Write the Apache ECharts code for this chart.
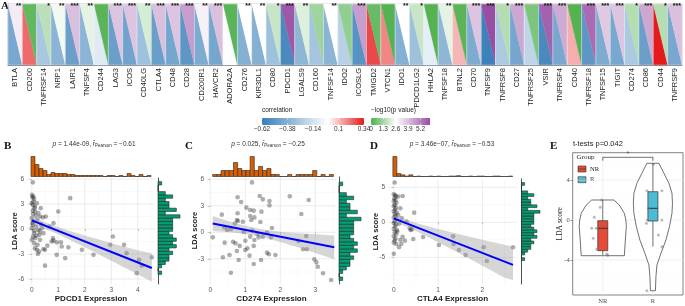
<!DOCTYPE html>
<html>
<head>
<meta charset="utf-8">
<title>Immune checkpoints vs LDA score</title>
<script src="https://cdn.jsdelivr.net/npm/echarts@6/dist/echarts.min.js"></script>
<style>
  html, body { margin: 0; padding: 0; background: #fff; }
  #main { width: 685px; height: 306px; }
</style>
</head>
<body>
<div id="main"></div>
<script>
// ---- A: correlation of each checkpoint gene with the LDA score ----
const genes = ['BTLA', 'CD200', 'TNFRSF14', 'NRP1', 'LAIR1', 'TNFSF4', 'CD244', 'LAG3', 'ICOS', 'CD40LG',
  'CTLA4', 'CD48', 'CD28', 'CD200R1', 'HAVCR2', 'ADORA2A', 'CD276', 'KIR3DL1', 'CD80', 'PDCD1',
  'LGALS9', 'CD160', 'TNFSF14', 'IDO2', 'ICOSLG', 'TMIGD2', 'VTCN1', 'IDO1', 'PDCD1LG2', 'HHLA2',
  'TNFSF18', 'BTNL2', 'CD70', 'TNFSF9', 'TNFRSF8', 'CD27', 'TNFRSF25', 'VSIR', 'TNFRSF4', 'CD40',
  'TNFRSF18', 'TNFSF15', 'TIGIT', 'CD274', 'CD86', 'CD44', 'TNFRSF9'];
const corrValues = [-0.42, 0.22, -0.27, -0.36, -0.46, -0.36, -0.1, -0.46, -0.44, -0.3,
  -0.46, -0.43, -0.5, -0.4, -0.43, -0.01, -0.38, -0.38, -0.3, -0.56,
  -0.35, -0.28, -0.36, -0.22, -0.52, 0.27, 0.18, -0.38, -0.3, -0.08,
  -0.35, 0.11, -0.4, -0.6, -0.26, -0.43, -0.2, -0.56, -0.42, 0.12,
  -0.5, -0.4, -0.42, -0.26, -0.46, 0.34, -0.42];
const logPValues = [3.0, 0.3, 1.6, 2.4, 3.9, 2.2, 0.2, 3.8, 3.8, 2.0,
  3.9, 3.8, 4.6, 2.9, 3.9, 0.2, 2.6, 2.6, 1.8, 6.0,
  2.1, 1.2, 2.6, 1.0, 4.6, 0.4, 0.1, 2.6, 1.8, 0.1,
  2.2, 0.2, 3.8, 6.2, 1.5, 4.4, 0.7, 5.8, 4.3, 0.1,
  5.6, 3.7, 3.8, 1.5, 4.4, 1.5, 3.9];
const starLabels = ['**', '', '*', '**', '***', '**', '', '***', '***', '**',
  '***', '***', '***', '**', '***', '', '**', '**', '*', '***',
  '**', '', '**', '', '***', '', '', '**', '*', '',
  '**', '', '***', '***', '*', '***', '', '***', '***', '',
  '***', '***', '***', '*', '***', '*', '***'];
const corrBreaks = [-0.62, -0.38, -0.14, 0.1, 0.34];
const pBreaks = [0, 1.3, 2.6, 3.9, 5.2];

// ---- B-D: expression vs LDA score ----
const pdcd1Points = [[0.04, 5.6], [0.01, 4.1], [0.06, 3.9], [0.02, 3.8], [0.09, 3.6], [0.06, 3.3], [0.0, 3.1],
  [0.19, 3.1], [0.04, 2.9], [0.12, 2.7], [0.34, 2.5], [0.1, 2.5], [0.04, 2.2], [0.13, 2.1], [0.25, 1.9],
  [0.05, 1.8], [1.0, 2.1], [1.45, 3.7], [0.31, 1.5], [0.42, 1.4], [0.53, 1.5], [0.0, 1.3], [0.15, 1.6],
  [0.21, 1.1], [0.06, 0.9], [0.82, 0.7], [0.02, 0.7], [0.35, 0.6], [0.04, 0.5], [0.16, 0.3], [0.67, 0.3],
  [0.0, 0.1], [0.38, 0.1], [0.25, -0.1], [0.1, -0.2], [0.3, -0.3], [0.09, -0.5], [0.44, -0.5], [0.29, -0.7],
  [0.18, -0.8], [0.05, -0.9], [0.13, -1.1], [0.8, -1.1], [0.0, -1.3], [0.31, -1.3], [0.82, -1.4],
  [0.75, -1.5], [0.94, -1.6], [1.1, -1.6], [0.09, -1.7], [0.22, -1.9], [0.59, -2.0], [1.13, -2.1],
  [1.38, -2.2], [0.12, -2.3], [0.44, -2.4], [0.19, -2.5], [0.5, -2.5], [1.89, -2.5], [0.28, -2.7],
  [0.23, -3.0], [0.94, -3.1], [2.33, -3.1], [1.26, -3.5], [0.5, -4.4], [2.96, -1.9], [3.06, -0.9],
  [3.48, -1.9], [3.58, -2.9], [4.05, -3.7], [4.15, -4.4], [3.96, -5.3], [4.53, -3.4]];
const pdcd1Fit = [[0, 1.04], [4.53, -4.68]];
const pdcd1BandX = [0, 0.5, 1, 1.5, 2, 2.5, 3, 3.5, 4, 4.53];
const pdcd1BandLow = [0.54, 0.01, -0.64, -1.4, -2.18, -3.0, -3.8, -4.63, -5.46, -6.3];
const pdcd1BandHigh = [1.54, 0.81, 0.2, -0.3, -0.78, -1.24, -1.7, -2.13, -2.56, -2.95];
const pdcd1HistStart = -0.03, pdcd1HistWidth = 0.151;
const pdcd1HistCounts = [20, 12, 8, 6, 2, 4, 3, 3, 3, 2, 2, 1, 1, 1, 1, 1, 1, 1, 0, 1, 1, 0, 1, 0, 3, 1, 0, 2, 0, 1];

const cd274Points = [[1.19, 5.65], [0.78, 3.96], [0.88, 3.43], [1.03, 2.79], [1.41, 4.11], [1.5, 3.73],
  [1.69, 3.54], [1.69, 3.05], [2.27, 4.07], [2.81, 3.66], [2.6, 2.07], [0.78, 2.15], [1.14, 2.52],
  [1.24, 2.45], [1.46, 2.34], [0.76, 1.39], [0.79, 1.28], [0.93, 1.2], [1.14, 1.85], [1.26, 1.69],
  [1.17, 1.39], [0.33, 2.0], [0.4, 0.56], [0.48, 0.26], [0.59, 0.34], [0.7, 1.0], [0.07, -0.57],
  [0.41, -1.17], [0.65, -1.06], [0.72, -1.24], [0.84, -1.54], [1.0, -0.95], [1.14, -0.49], [1.26, -0.87],
  [1.24, -1.54], [1.38, -0.57], [1.5, -0.49], [1.62, -0.04], [1.73, -0.57], [1.06, -1.81], [1.0, -2.0],
  [0.76, -2.11], [0.36, -2.83], [0.55, -2.57], [0.81, -3.13], [1.12, -2.64], [1.24, -3.58], [1.45, -3.13],
  [1.62, -2.3], [1.67, -2.49], [1.86, -2.57], [0.59, -4.57], [2.52, -0.98], [2.65, -1.92], [2.76, -1.92],
  [2.74, -0.42], [2.97, -3.06], [3.03, -3.4], [3.07, -3.89], [3.22, -4.64], [3.45, -5.4], [1.43, 1.17],
  [1.76, 0.49], [1.2, 0.2], [0.95, 0.05], [1.35, -0.2]];
const cd274Fit = [[0.07, 1.0], [3.54, -1.7]];
const cd274BandX = [0.07, 0.5, 1, 1.5, 2, 2.5, 3, 3.54];
const cd274BandLow = [0.15, 0.04, -0.2, -0.57, -1.09, -1.7, -2.33, -3.05];
const cd274BandHigh = [1.85, 1.28, 0.74, 0.33, 0.07, -0.1, -0.23, -0.35];
const cd274HistStart = 0.067, cd274HistWidth = 0.119;
const cd274HistCounts = [1, 1, 3, 3, 3, 7, 4, 3, 3, 10, 3, 5, 3, 4, 1, 1, 0, 0, 1, 0, 1, 1, 1, 1, 3, 0, 1, 0, 1];

const ctla4Points = [[0.02, 5.7], [0.0, 4.0], [0.03, 3.9], [0.05, 3.7], [0.01, 3.4], [0.04, 3.2], [0.0, 3.0],
  [0.06, 2.8], [0.02, 2.5], [0.0, 2.3], [0.05, 2.1], [0.03, 1.8], [0.0, 1.6], [0.07, 1.4], [0.02, 1.2],
  [0.04, 0.9], [0.0, 0.7], [0.06, 0.4], [0.02, 0.2], [0.0, -0.1], [0.05, -0.3], [0.03, -0.6], [0.0, -0.9],
  [0.07, -1.1], [0.02, -1.4], [0.05, -1.7], [0.0, -2.0], [0.04, -2.3], [0.02, -2.6], [0.0, -2.9],
  [0.06, -3.1], [0.0, -4.5], [0.2, 3.76], [0.1, 3.7], [0.15, 2.0], [0.1, 1.05], [0.46, 1.38], [0.18, 0.6],
  [0.29, 0.1], [0.12, -0.2], [0.41, -1.0], [0.36, -0.86], [0.38, -1.1], [0.08, -1.3], [0.44, -2.38],
  [0.2, -2.05], [0.15, -2.52], [0.25, -2.62], [0.17, -3.1], [0.12, -3.57], [0.66, -2.1], [1.02, -3.24],
  [1.34, -2.0], [1.35, -3.1], [1.47, -3.95], [1.62, -4.67], [2.03, -3.57], [2.1, -5.52], [2.69, -3.57]];
const ctla4Fit = [[0, 0.57], [2.69, -6.07]];
const ctla4BandX = [0, 0.5, 1, 1.5, 2, 2.5, 2.69];
const ctla4BandLow = [0.12, -1.25, -2.85, -4.5, -6.2, -7.9, -8.25];
const ctla4BandHigh = [1.02, -0.1, -0.95, -1.75, -2.5, -3.2, -3.5];
const ctla4HistStart = -0.02, ctla4HistWidth = 0.09;
const ctla4HistCounts = [48, 7, 4, 1, 4, 0, 1, 0, 0, 1, 0, 1, 0, 0, 1, 1, 2, 0, 0, 1, 0, 1, 1, 0, 0, 1, 1, 0, 0, 1];

// LDA score distribution (same for B, C, D), bins from bottom to top
const ldaHistStart = -5.45, ldaHistWidth = 0.3975;
const ldaHistCounts = [1, 0, 1, 2, 3, 3, 4, 3, 5, 4, 5, 4, 3, 4, 4, 4, 4, 6, 2, 5, 3, 3, 2, 4, 2, 0, 0, 1];

// ---- E: LDA score by response group ----
const groupNames = ['NR', 'R'];
const groupColors = ['#E64B35', '#4DBBD5'];
const nrViolinY = [2.0, 1.5, 1.0, 0.67, 0.0, -0.67, -1.3, -2.0, -2.8, -3.57];
const nrViolinW = [0.22, 0.33, 0.39, 0.43, 0.46, 0.47, 0.46, 0.45, 0.44, 0.43];
const rViolinY = [5.67, 4.67, 3.67, 2.67, 1.67, 0.67, -0.67, -2.0, -3.33, -4.5, -5.67, -7.07];
const rViolinW = [0.12, 0.22, 0.32, 0.38, 0.39, 0.38, 0.33, 0.26, 0.16, 0.08, 0.06, 0.05];
// min, q1, median, q3, max
const nrBox = [-3.5, -3.07, -0.83, -0.07, 2.0];
const rBox = [-2.67, -0.1, 1.17, 2.83, 5.67];
const nrPoints = [[0.98, 2.0], [0.95, 1.27], [0.83, 0.27], [0.78, -0.83], [0.87, -0.83], [0.97, -0.7],
  [0.81, -1.83], [0.88, -2.93], [1.08, -3.4], [1.1, -3.53]];
const rPoints = [[2.01, 5.57], [1.88, 2.93], [2.18, 2.93], [1.91, 1.17], [1.89, 0.0], [2.18, 0.0],
  [1.87, -0.33], [2.11, -1.5], [2.18, -2.67], [1.88, -7.07]];
const sigBracket = { from: 1, to: 2, y: 6.27, drop: 0.34, label: '*' };

const SANS = "'Liberation Sans', Arial, sans-serif";
const SERIF = "'Liberation Serif', 'Times New Roman', serif";
const BLUE = [55, 126, 184], RED = [228, 26, 28], WHITE = [255, 255, 255];
const GREEN = [77, 175, 74], PURPLE = [152, 78, 163];
const CORR_MIN = -0.62, CORR_MAX = 0.34, P_MID = 2.6, P_MAX = 6.2;

function mix(a, b, t) {
  t = Math.max(0, Math.min(1, t));
  return 'rgb(' + a.map((v, k) => Math.round(v + (b[k] - v) * t)).join(',') + ')';
}
function corrColor(v) {
  return v < 0 ? mix(WHITE, BLUE, v / CORR_MIN) : mix(WHITE, RED, v / CORR_MAX);
}
function pColor(v) {
  return v < P_MID ? mix(GREEN, WHITE, v / P_MID) : mix(WHITE, PURPLE, (v - P_MID) / (P_MAX - P_MID));
}

const chart = echarts.init(document.getElementById('main'));
const grid = [], xAxis = [], yAxis = [], series = [], graphic = [];

// panel A
grid.push({ left: 8, top: 4, width: 674, height: 61, show: true, borderColor: '#a0a0a0', borderWidth: 0.6 });
xAxis.push({
  type: 'category', gridIndex: 0, data: genes,
  axisLine: { lineStyle: { color: '#333', width: 0.6 } },
  axisTick: { alignWithLabel: true, length: 2, lineStyle: { color: '#333', width: 0.6 } },
  axisLabel: { interval: 0, rotate: 90, fontSize: 7.5, color: '#222', margin: 3, fontFamily: SANS },
  splitLine: { show: false }
});
yAxis.push({
  type: 'value', gridIndex: 0, min: 0, max: 1,
  axisLine: { show: true, lineStyle: { color: '#333', width: 0.8 } },
  axisTick: { show: false }, axisLabel: { show: false }, splitLine: { show: false }
});
series.push({
  type: 'custom', xAxisIndex: 0, yAxisIndex: 0, silent: true, z: 2,
  data: genes.map((g, i) => [i, corrValues[i], logPValues[i]]),
  encode: { x: 0, y: 1 },
  renderItem(params, api) {
    const i = api.value(0);
    const top = api.coord([i, 1]);
    const bottom = api.coord([i, 0]);
    const w = api.size([1, 0])[0];
    const x0 = top[0] - w / 2, x1 = top[0] + w / 2, y0 = top[1], y1 = bottom[1];
    const cc = corrColor(api.value(1)), pc = pColor(api.value(2));
    return {
      type: 'group',
      children: [
        { type: 'polygon', shape: { points: [[x0, y0], [x0, y1], [x1, y1]] }, style: { fill: cc, stroke: cc, lineWidth: 0.3 } },
        { type: 'polygon', shape: { points: [[x0, y0], [x1, y0], [x1, y1]] }, style: { fill: pc, stroke: pc, lineWidth: 0.3 } },
        { type: 'rect', shape: { x: x0, y: y0, width: w, height: y1 - y0 }, style: { fill: 'none', stroke: 'rgba(255,255,255,0.7)', lineWidth: 0.5 } },
        { type: 'text', style: { text: starLabels[params.dataIndex], x: x1 - 1, y: y0 - 1, textAlign: 'right', textVerticalAlign: 'top', fontSize: 7, fontWeight: 'bold', fontFamily: SANS, fill: '#111' } }
      ]
    };
  }
});

// colour bar legends
function colorBar(x, y, w, h, min, max, stops, breaks, title, fmt) {
  graphic.push({ type: 'text', x: x, y: y - 4, style: { text: title, fontSize: 6.5, fontFamily: SANS, fill: '#222', textVerticalAlign: 'bottom' } });
  graphic.push({ type: 'rect', shape: { x: x, y: y, width: w, height: h }, style: { fill: new echarts.graphic.LinearGradient(0, 0, 1, 0, stops) } });
  breaks.forEach(b => {
    const bx = x + (b - min) / (max - min) * w;
    graphic.push({ type: 'line', shape: { x1: bx, y1: y, x2: bx, y2: y + 1.5 }, style: { stroke: '#fff', lineWidth: 0.6 } });
    graphic.push({ type: 'line', shape: { x1: bx, y1: y + h - 1.5, x2: bx, y2: y + h }, style: { stroke: '#fff', lineWidth: 0.6 } });
    graphic.push({ type: 'text', x: bx, y: y + h + 1, style: { text: fmt(b), fontSize: 6.5, fontFamily: SANS, fill: '#333', textAlign: 'center', textVerticalAlign: 'top' } });
  });
}
const zeroAt = (0 - CORR_MIN) / (CORR_MAX - CORR_MIN);
colorBar(262, 118, 102, 7, CORR_MIN, CORR_MAX,
  [{ offset: 0, color: mix(WHITE, BLUE, 1) }, { offset: zeroAt / 2, color: mix(WHITE, BLUE, 0.5) },
   { offset: zeroAt, color: '#ffffff' }, { offset: (1 + zeroAt) / 2, color: mix(WHITE, RED, 0.5) },
   { offset: 1, color: mix(WHITE, RED, 1) }],
  corrBreaks, 'correlation', v => (v < 0 ? '\u2212' + Math.abs(v) : String(v)));
colorBar(371, 118, 59, 7, 0, P_MAX,
  [{ offset: 0, color: mix(GREEN, WHITE, 0) }, { offset: P_MID / P_MAX, color: '#ffffff' }, { offset: 1, color: mix(WHITE, PURPLE, 1) }],
  pBreaks, '\u2212log10(p value)', v => String(v));

// helpers for B-D
function gridLines(gi, xMajor, xMinor, yMajor, yMinor, majorColor, minorColor) {
  const data = [].concat(
    xMajor.map(v => [0, v, 1]), xMinor.map(v => [0, v, 0]),
    yMajor.map(v => [1, v, 1]), yMinor.map(v => [1, v, 0]));
  return {
    type: 'custom', xAxisIndex: gi, yAxisIndex: gi, silent: true, z: 0, data: data,
    encode: { x: -1, y: -1 },
    renderItem(params, api) {
      const cs = params.coordSys;
      const kind = api.value(0), v = api.value(1), major = api.value(2);
      let shape;
      if (kind === 0) {
        const px = api.coord([v, 0])[0];
        shape = { x1: px, y1: cs.y, x2: px, y2: cs.y + cs.height };
      } else {
        const py = api.coord([0, v])[1];
        shape = { x1: cs.x, y1: py, x2: cs.x + cs.width, y2: py };
      }
      return { type: 'line', shape: shape, style: { stroke: major ? majorColor : minorColor, lineWidth: major ? 0.8 : 0.5 } };
    }
  };
}
function bandSeries(gi, xs, lows, highs) {
  return {
    type: 'custom', xAxisIndex: gi, yAxisIndex: gi, silent: true, z: 3,
    data: xs.map((x, i) => [x, lows[i], highs[i]]),
    renderItem(params, api) {
      if (params.dataIndex !== 0) return null;
      const n = xs.length, top = [], bottom = [];
      for (let j = 0; j < n; j++) {
        top.push(api.coord([api.value(0, j), api.value(2, j)]));
        bottom.push(api.coord([api.value(0, j), api.value(1, j)]));
      }
      return { type: 'polygon', shape: { points: top.concat(bottom.reverse()) }, style: { fill: 'rgba(153,153,153,0.4)' } };
    }
  };
}
function binsFrom(start, width, counts) {
  return counts.map((c, i) => [start + i * width, start + (i + 1) * width, c]);
}
function histSeries(gi, bins, horizontal, color) {
  return {
    type: 'custom', xAxisIndex: gi, yAxisIndex: gi, silent: true, z: 2, data: bins,
    encode: horizontal ? { x: 2, y: [0, 1] } : { x: [0, 1], y: 2 },
    renderItem(params, api) {
      const a = api.value(0), b = api.value(1), c = api.value(2);
      const p0 = horizontal ? api.coord([0, a]) : api.coord([a, 0]);
      const p1 = horizontal ? api.coord([c, b]) : api.coord([b, c]);
      return {
        type: 'rect',
        shape: { x: Math.min(p0[0], p1[0]), y: Math.min(p0[1], p1[1]), width: Math.abs(p1[0] - p0[0]), height: Math.abs(p1[1] - p0[1]) },
        style: { fill: color, stroke: '#262626', lineWidth: 0.6 }
      };
    }
  };
}

const HIST_TOP = 150, HIST_H = 26.5, HIST_TALL = 20;
function addScatterPanel(p) {
  const gi = grid.length;
  grid.push({ left: p.left, top: p.top, width: p.width, height: p.height });
  grid.push({ left: p.left, top: HIST_TOP, width: p.width, height: HIST_H });
  grid.push({ left: p.sideLeft, top: p.top, width: p.sideWidth, height: p.height });
  const labelStyle = { fontSize: 6.5, color: '#555', fontFamily: SANS };
  xAxis.push({
    type: 'value', gridIndex: gi, min: p.xMin, max: p.xMax,
    name: p.xName, nameLocation: 'middle', nameGap: 10,
    nameTextStyle: { fontSize: 8, fontWeight: 'bold', color: '#1a1a1a', fontFamily: SANS },
    axisLine: { show: false },
    axisTick: { show: true, length: 2, customValues: p.xMajor, lineStyle: { color: '#999', width: 0.6 } },
    axisLabel: Object.assign({ customValues: p.xMajor, margin: 3 }, labelStyle),
    splitLine: { show: false }
  });
  yAxis.push({
    type: 'value', gridIndex: gi, min: p.yMin, max: p.yMax,
    name: 'LDA score', nameLocation: 'middle', nameGap: 8, nameRotate: 90, nameMoveOverlap: false,
    nameTextStyle: { fontSize: 7.5, fontWeight: 'bold', color: '#1a1a1a', fontFamily: SANS },
    axisLine: { show: false },
    axisTick: { show: true, length: 2, customValues: p.yMajor, lineStyle: { color: '#999', width: 0.6 } },
    axisLabel: Object.assign({ customValues: p.yMajor, margin: 3 }, labelStyle),
    splitLine: { show: false }
  });
  const topMax = Math.max.apply(null, p.topCounts) * HIST_H / HIST_TALL;
  const sideMax = Math.max.apply(null, ldaHistCounts) * p.sideWidth / p.sideTall;
  xAxis.push({ type: 'value', gridIndex: gi + 1, min: p.xMin, max: p.xMax, show: false });
  yAxis.push({ type: 'value', gridIndex: gi + 1, min: 0, max: topMax, show: false });
  xAxis.push({ type: 'value', gridIndex: gi + 2, min: 0, max: sideMax, show: false });
  yAxis.push({
    type: 'value', gridIndex: gi + 2, min: p.yMin, max: p.yMax,
    axisLine: { show: true, lineStyle: { color: '#262626', width: 0.8 } },
    axisTick: { show: false }, axisLabel: { show: false }, splitLine: { show: false }
  });

  series.push(gridLines(gi, p.xMajor, p.xMinor, p.yMajor, p.yMinor, '#e6e6e6', '#f3f3f3'));
  series.push({
    type: 'scatter', xAxisIndex: gi, yAxisIndex: gi, data: p.points, silent: true, z: 2,
    symbolSize: 4.6, itemStyle: { color: 'rgba(0,0,0,0.4)' }
  });
  series.push(bandSeries(gi, p.bandX, p.bandLow, p.bandHigh));
  series.push({
    type: 'line', xAxisIndex: gi, yAxisIndex: gi, data: p.fit, silent: true, z: 4,
    symbol: 'none', lineStyle: { color: '#0000ff', width: 2 }
  });
  series.push(histSeries(gi + 1, binsFrom(p.topStart, p.topWidth, p.topCounts), false, '#D55E00'));
  series.push(histSeries(gi + 2, binsFrom(ldaHistStart, ldaHistWidth, ldaHistCounts), true, '#009E73'));

  graphic.push({ type: 'text', x: p.letterX, y: 141, style: { text: p.letter, fontSize: 11, fontWeight: 'bold', fontFamily: SERIF, fill: '#111' } });
  graphic.push({
    type: 'text', x: p.titleX, y: 144,
    style: {
      text: '{i|p} = ' + p.pText + ', {i|r\u0302}{s|Pearson} = ' + p.rText,
      textAlign: 'center', textVerticalAlign: 'middle', fontSize: 6.5, fontFamily: SANS, fill: '#333',
      rich: {
        i: { fontStyle: 'italic', fontSize: 6.5, fontFamily: SANS, fill: '#333' },
        s: { fontSize: 4.5, fontFamily: SANS, fill: '#333', padding: [3, 0, 0, 0] }
      }
    }
  });
}

addScatterPanel({
  letter: 'B', letterX: 4, titleX: 94, pText: '1.44e-09', rText: '\u22120.61',
  left: 27, top: 178, width: 128, height: 106, xMin: -0.18, xMax: 4.65, yMin: -6.6, yMax: 6.12,
  xMajor: [0, 1, 2, 3, 4], xMinor: [0.5, 1.5, 2.5, 3.5, 4.5], yMajor: [-6, -3, 0, 3, 6], yMinor: [-4.5, -1.5, 1.5, 4.5],
  points: pdcd1Points, fit: pdcd1Fit, bandX: pdcd1BandX, bandLow: pdcd1BandLow, bandHigh: pdcd1BandHigh,
  topStart: pdcd1HistStart, topWidth: pdcd1HistWidth, topCounts: pdcd1HistCounts,
  sideLeft: 158, sideWidth: 24, sideTall: 22, xName: 'PDCD1 Expression'
});
addScatterPanel({
  letter: 'C', letterX: 185, titleX: 268, pText: '0.025', rText: '\u22120.25',
  left: 207, top: 177, width: 129, height: 107, xMin: -0.094, xMax: 3.59, yMin: -5.85, yMax: 6.26,
  xMajor: [0, 1, 2, 3], xMinor: [0.5, 1.5, 2.5, 3.5], yMajor: [-3, 0, 3, 6], yMinor: [-4.5, -1.5, 1.5, 4.5],
  points: cd274Points, fit: cd274Fit, bandX: cd274BandX, bandLow: cd274BandLow, bandHigh: cd274BandHigh,
  topStart: cd274HistStart, topWidth: cd274HistWidth, topCounts: cd274HistCounts,
  sideLeft: 339, sideWidth: 24, sideTall: 22, xName: 'CD274 Expression'
});
addScatterPanel({
  letter: 'D', letterX: 370, titleX: 452, pText: '3.46e\u221207', rText: '\u22120.53',
  left: 388, top: 179, width: 129, height: 105, xMin: -0.13, xMax: 2.78, yMin: -8.81, yMax: 6.19,
  xMajor: [0, 1, 2], xMinor: [0.5, 1.5, 2.5], yMajor: [-5, 0, 5], yMinor: [-7.5, -2.5, 2.5],
  points: ctla4Points, fit: ctla4Fit, bandX: ctla4BandX, bandLow: ctla4BandLow, bandHigh: ctla4BandHigh,
  topStart: ctla4HistStart, topWidth: ctla4HistWidth, topCounts: ctla4HistCounts,
  sideLeft: 521.5, sideWidth: 20, sideTall: 18.5, xName: 'CTLA4 Expression'
});

// panel E
const ge = grid.length;
grid.push({ left: 572.7, top: 152.7, width: 110.3, height: 142.3, show: true, borderColor: '#4d4d4d', borderWidth: 0.7 });
xAxis.push({
  type: 'value', gridIndex: ge, min: 0.4, max: 2.6,
  axisLine: { show: false },
  axisTick: { show: true, length: 2, customValues: [1, 2], lineStyle: { color: '#4d4d4d', width: 0.6 } },
  axisLabel: { customValues: [1, 2], formatter: v => groupNames[v - 1], fontSize: 6.5, color: '#4d4d4d', fontFamily: SERIF, margin: 3 },
  splitLine: { show: false }
});
yAxis.push({
  type: 'value', gridIndex: ge, min: -7.5, max: 6.73,
  name: 'LDA score', nameLocation: 'middle', nameGap: 9, nameRotate: 90, nameMoveOverlap: false,
  nameTextStyle: { fontSize: 7.5, color: '#222', fontFamily: SERIF },
  axisLine: { show: false },
  axisTick: { show: true, length: 2, customValues: [-4, 0, 4], lineStyle: { color: '#4d4d4d', width: 0.6 } },
  axisLabel: { customValues: [-4, 0, 4], fontSize: 6.5, color: '#4d4d4d', fontFamily: SERIF, margin: 3 },
  splitLine: { show: false }
});
series.push(gridLines(ge, [1, 2], [], [-4, 0, 4], [-6, -2, 2, 6], '#ebebeb', '#f5f5f5'));
const violins = [{ center: 1, ys: nrViolinY, ws: nrViolinW }, { center: 2, ys: rViolinY, ws: rViolinW }];
series.push({
  type: 'custom', xAxisIndex: ge, yAxisIndex: ge, silent: true, z: 2,
  data: violins.map(v => [v.center, v.ys[0]]),
  renderItem(params, api) {
    const v = violins[params.dataIndex];
    const c = api.value(0);
    const right = v.ys.map((y, k) => api.coord([c + v.ws[k], y]));
    const left = v.ys.map((y, k) => api.coord([c - v.ws[k], y])).reverse();
    return { type: 'polygon', shape: { points: right.concat(left) }, style: { fill: '#fff', stroke: '#333', lineWidth: 0.7 } };
  }
});
series.push({
  type: 'custom', xAxisIndex: ge, yAxisIndex: ge, silent: true, z: 3,
  data: [[1].concat(nrBox), [2].concat(rBox)],
  renderItem(params, api) {
    const c = api.value(0), half = 0.1;
    const lo = api.value(1), q1 = api.value(2), med = api.value(3), q3 = api.value(4), hi = api.value(5);
    const a = api.coord([c - half, q3]), b = api.coord([c + half, q1]);
    const m0 = api.coord([c - half, med]), m1 = api.coord([c + half, med]);
    const st = { stroke: '#333', lineWidth: 0.7 };
    return {
      type: 'group',
      children: [
        { type: 'line', shape: { x1: api.coord([c, hi])[0], y1: api.coord([c, hi])[1], x2: api.coord([c, q3])[0], y2: api.coord([c, q3])[1] }, style: st },
        { type: 'line', shape: { x1: api.coord([c, q1])[0], y1: api.coord([c, q1])[1], x2: api.coord([c, lo])[0], y2: api.coord([c, lo])[1] }, style: st },
        { type: 'rect', shape: { x: a[0], y: a[1], width: b[0] - a[0], height: b[1] - a[1] }, style: { fill: groupColors[params.dataIndex], stroke: '#333', lineWidth: 0.7 } },
        { type: 'line', shape: { x1: m0[0], y1: m0[1], x2: m1[0], y2: m1[1] }, style: { stroke: '#333', lineWidth: 1 } }
      ]
    };
  }
});
series.push({
  type: 'scatter', xAxisIndex: ge, yAxisIndex: ge, silent: true, z: 4,
  data: nrPoints.concat(rPoints), symbolSize: 3, itemStyle: { color: 'rgba(110,110,110,0.6)' }
});
series.push({
  type: 'line', xAxisIndex: ge, yAxisIndex: ge, silent: true, z: 4, symbol: 'none',
  data: [[sigBracket.from, sigBracket.y - sigBracket.drop], [sigBracket.from, sigBracket.y],
         [sigBracket.to, sigBracket.y], [sigBracket.to, sigBracket.y - sigBracket.drop]],
  lineStyle: { color: '#333', width: 0.7 }
});
series.push({
  type: 'scatter', xAxisIndex: ge, yAxisIndex: ge, silent: true, z: 4,
  data: [[(sigBracket.from + sigBracket.to) / 2, sigBracket.y]], symbolSize: 0.1,
  label: { show: true, formatter: sigBracket.label, position: 'top', distance: 0, fontSize: 7, color: '#333' }
});
graphic.push({ type: 'text', x: 550, y: 141, style: { text: 'E', fontSize: 11, fontWeight: 'bold', fontFamily: SERIF, fill: '#111' } });
graphic.push({ type: 'text', x: 573, y: 144, style: { text: 't-tests p=0.042', fontSize: 7.5, fontFamily: SANS, fill: '#222', textVerticalAlign: 'middle' } });
graphic.push({ type: 'text', x: 576.5, y: 157.5, style: { text: 'Group', fontSize: 7, fontFamily: SERIF, fill: '#222', textVerticalAlign: 'middle' } });
groupNames.forEach((name, k) => {
  const y = 166 + k * 10.7;
  graphic.push({ type: 'rect', shape: { x: 578, y: y, width: 8, height: 6 }, style: { fill: groupColors[k], stroke: '#333', lineWidth: 0.6 } });
  graphic.push({ type: 'line', shape: { x1: 578, y1: y + 3, x2: 586, y2: y + 3 }, style: { stroke: '#333', lineWidth: 0.6 } });
  graphic.push({ type: 'text', x: 590, y: y + 3, style: { text: name, fontSize: 6.5, fontFamily: SERIF, fill: '#222', textVerticalAlign: 'middle' } });
});

graphic.push({ type: 'text', x: 1, y: 1, style: { text: 'A', fontSize: 11, fontWeight: 'bold', fontFamily: SERIF, fill: '#111' } });

chart.setOption({
  animation: false,
  backgroundColor: '#fff',
  textStyle: { fontFamily: SANS },
  grid: grid,
  xAxis: xAxis,
  yAxis: yAxis,
  series: series,
  graphic: graphic
});
</script>
</body>
</html>
